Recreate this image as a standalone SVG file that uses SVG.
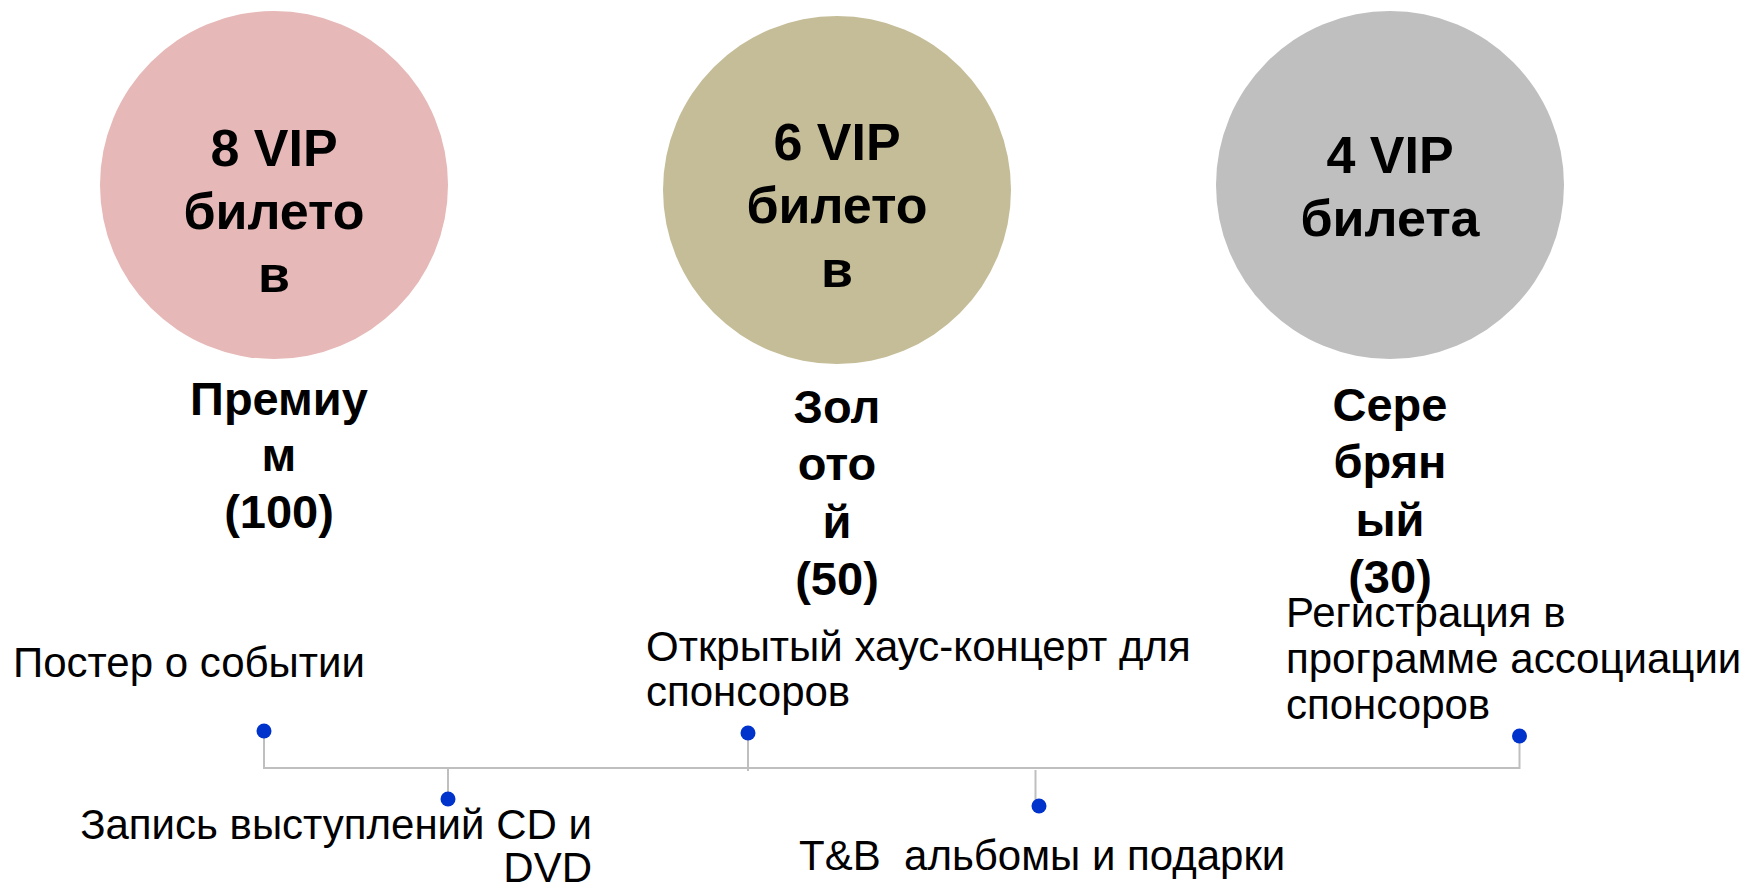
<svg xmlns="http://www.w3.org/2000/svg" width="1750" height="885" viewBox="0 0 1750 885">
<style>
.ct{font-family:"Liberation Sans",Arial,sans-serif;font-weight:bold;font-size:52px;fill:#000;text-anchor:middle}
.lb{font-family:"Liberation Sans",Arial,sans-serif;font-weight:bold;font-size:47px;fill:#000;text-anchor:middle}
.tx{font-family:"Liberation Sans",Arial,sans-serif;font-size:42px;fill:#000}
.ln{stroke:#BFBFBF;stroke-width:2;fill:none}
.dot{fill:#0033CC}
</style>
<rect width="1750" height="885" fill="#fff"/>
<g id="connectors">
<path class="ln" d="M264 731 V768 H1519.5 V736"/>
<path class="ln" d="M448 768 V799"/>
<path class="ln" d="M748 733 V771"/>
<path class="ln" d="M1035.5 770 V806"/>
</g>
<g id="premium">
<circle cx="274" cy="185" r="174" fill="#E6B8B7"/>
<text class="ct" x="274" y="166">8 VIP</text>
<text class="ct" x="274" y="229">билето</text>
<text class="ct" x="274" y="292">в</text>
<text class="lb" x="279" y="415">Премиу</text>
<text class="lb" x="279" y="471">м</text>
<text class="lb" x="279" y="528">(100)</text>
</g>
<g id="gold">
<circle cx="837" cy="190" r="174" fill="#C4BD97"/>
<text class="ct" x="837" y="160">6 VIP</text>
<text class="ct" x="837" y="223">билето</text>
<text class="ct" x="837" y="287">в</text>
<text class="lb" x="837" y="423">Зол</text>
<text class="lb" x="837" y="480">ото</text>
<text class="lb" x="837" y="538">й</text>
<text class="lb" x="837" y="595">(50)</text>
</g>
<g id="silver">
<circle cx="1390" cy="185" r="174" fill="#BFBFBF"/>
<text class="ct" x="1390" y="173">4 VIP</text>
<text class="ct" x="1390" y="236">билета</text>
<text class="lb" x="1390" y="421">Сере</text>
<text class="lb" x="1390" y="478">брян</text>
<text class="lb" x="1390" y="536">ый</text>
<text class="lb" x="1390" y="593">(30)</text>
</g>
<g id="item-poster">
<circle class="dot" cx="264" cy="731" r="7.5"/>
<text class="tx" x="13" y="677">Постер о событии</text>
</g>
<g id="item-record">
<circle class="dot" cx="448" cy="799" r="7.5"/>
<text class="tx" x="592" y="839" text-anchor="end">Запись выступлений CD и</text>
<text class="tx" x="592" y="882" text-anchor="end">DVD</text>
</g>
<g id="item-concert">
<circle class="dot" cx="748" cy="733" r="7.5"/>
<text class="tx" x="646" y="661">Открытый хаус-концерт для</text>
<text class="tx" x="646" y="706">спонсоров</text>
</g>
<g id="item-albums">
<circle class="dot" cx="1039" cy="806" r="7.5"/>
<text class="tx" x="799" y="870" xml:space="preserve">T&amp;B  альбомы и подарки</text>
</g>
<g id="item-registration">
<circle class="dot" cx="1519.5" cy="736" r="7.5"/>
<text class="tx" x="1286" y="627">Регистрация в</text>
<text class="tx" x="1286" y="673">программе ассоциации</text>
<text class="tx" x="1286" y="719">спонсоров</text>
</g>
</svg>
